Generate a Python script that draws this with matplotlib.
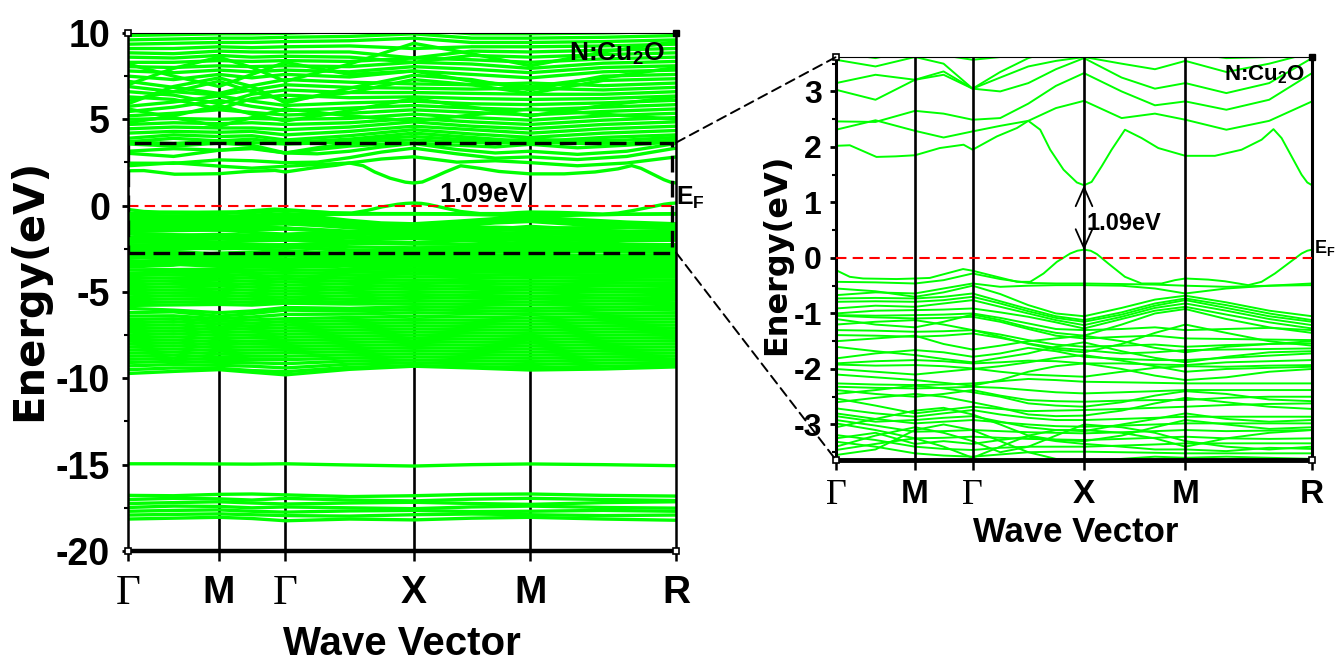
import matplotlib.pyplot as plt
from matplotlib.patches import Rectangle, ConnectionPatch
from matplotlib.ticker import MultipleLocator
import matplotlib.transforms as mtransforms

plt.rcParams['axes.unicode_minus'] = False
plt.rcParams['mathtext.fontset'] = 'custom'
plt.rcParams['mathtext.rm'] = 'Liberation Sans:bold'
plt.rcParams['mathtext.it'] = 'Liberation Sans:bold'
plt.rcParams['mathtext.bf'] = 'Liberation Sans:bold'

SANS = ['Liberation Sans', 'DejaVu Sans']
SERIF = ['Liberation Serif', 'DejaVu Serif']
GREEN = '#00ff00'

# high symmetry points on the k path
k_hs = [0.0, 0.166, 0.287, 0.521, 0.734, 1.0]
hs_labels = ['Γ', 'M', 'Γ', 'X', 'M', 'R']

# lowest conduction band (fine sampling)
k_cb1 = [0.0, 0.029, 0.085, 0.125, 0.166, 0.218, 0.268, 0.287, 0.338, 0.380, 0.404, 0.429,
         0.450, 0.478, 0.506, 0.521, 0.537, 0.558, 0.579, 0.607, 0.642, 0.677, 0.734, 0.796,
         0.852, 0.894, 0.919, 0.936, 0.957, 0.978, 0.990, 1.0]
e_cb1 = [2.02, 2.03, 1.82, 1.83, 1.85, 1.98, 2.04, 1.95, 2.19, 2.34, 2.47, 2.31,
         1.95, 1.59, 1.36, 1.31, 1.37, 1.65, 1.95, 2.31, 2.16, 1.98, 1.84, 1.84,
         1.95, 2.13, 2.32, 2.16, 1.83, 1.50, 1.36, 1.31]

# highest valence band (fine sampling)
k_vb1 = [0.0, 0.029, 0.057, 0.127, 0.166, 0.197, 0.232, 0.267, 0.287, 0.338, 0.380, 0.408,
         0.436, 0.464, 0.492, 0.507, 0.521, 0.535, 0.548, 0.572, 0.607, 0.642, 0.684, 0.712,
         0.734, 0.782, 0.817, 0.866, 0.894, 0.922, 0.950, 0.978, 0.990, 1.0]
e_vb1 = [-0.22, -0.34, -0.37, -0.38, -0.37, -0.36, -0.28, -0.20, -0.23, -0.34, -0.43, -0.43,
         -0.28, -0.07, 0.08, 0.13, 0.15, 0.13, 0.07, -0.10, -0.34, -0.46, -0.46, -0.40,
         -0.37, -0.39, -0.42, -0.49, -0.43, -0.28, -0.10, 0.08, 0.13, 0.15]

# grid for the bands near the gap
k_mid = [0.0, 0.083, 0.166, 0.226, 0.287, 0.345, 0.404, 0.462, 0.521, 0.60, 0.67, 0.734, 0.82, 0.91, 1.0]

cond_bands = [
    [2.31, 2.48, 2.29, 2.17, 2.28, 2.38, 2.47, 2.70, 2.83, 2.52, 2.60, 2.49, 2.31, 2.47, 2.82],
    [2.46, 2.45, 2.65, 2.60, 2.49, 2.52, 2.78, 3.10, 3.33, 3.00, 2.75, 2.82, 2.67, 2.85, 3.33],
    [3.03, 2.85, 3.21, 3.30, 3.05, 3.00, 3.15, 3.40, 3.60, 3.25, 3.05, 3.15, 2.97, 3.15, 3.60],
    [3.15, 3.30, 3.21, 3.36, 3.05, 3.25, 3.45, 3.55, 3.62, 3.50, 3.40, 3.55, 3.35, 3.50, 3.70],
    [3.57, 3.45, 3.62, 3.50, 3.05, 3.35, 3.60, 3.75, 3.80, 3.70, 3.62, 3.70, 3.60, 3.62, 3.80],
    [3.70, 3.60, 3.75, 3.65, 3.57, 3.62, 3.70, 3.90, 4.00, 3.85, 3.75, 3.85, 3.75, 3.80, 3.95],
]

val_bands = [
    [-0.43, -0.44, -0.46, -0.40, -0.28, -0.38, -0.45, -0.46, -0.46, -0.47, -0.48, -0.50, -0.52, -0.50, -0.46],
    [-0.67, -0.62, -0.64, -0.55, -0.46, -0.52, -0.50, -0.49, -0.49, -0.50, -0.55, -0.64, -0.55, -0.50, -0.49],
    [-0.73, -0.72, -0.73, -0.70, -0.64, -0.78, -0.92, -1.05, -1.12, -0.98, -0.82, -0.73, -0.85, -1.00, -1.12],
    [-0.79, -0.78, -0.79, -0.76, -0.70, -0.82, -0.96, -1.08, -1.15, -1.02, -0.86, -0.76, -0.90, -1.05, -1.15],
    [-0.91, -0.86, -0.88, -0.82, -0.76, -0.88, -1.00, -1.12, -1.21, -1.06, -0.90, -0.82, -0.95, -1.10, -1.21],
    [-1.00, -0.95, -0.94, -0.93, -0.91, -0.98, -1.06, -1.16, -1.27, -1.10, -0.95, -0.88, -1.02, -1.16, -1.27],
    [-1.03, -1.04, -1.03, -1.02, -1.00, -1.08, -1.18, -1.28, -1.30, -1.28, -1.25, -1.30, -1.28, -1.26, -1.30],
    [-1.04, -1.07, -1.09, -1.08, -1.06, -1.15, -1.28, -1.40, -1.45, -1.42, -1.40, -1.45, -1.46, -1.47, -1.48],
    [-1.30, -1.31, -1.33, -1.32, -1.30, -1.38, -1.48, -1.56, -1.60, -1.58, -1.56, -1.60, -1.57, -1.55, -1.54],
    [-1.39, -1.40, -1.42, -1.40, -1.36, -1.44, -1.54, -1.62, -1.66, -1.72, -1.70, -1.66, -1.65, -1.64, -1.63],
    [-1.81, -1.72, -1.66, -1.70, -1.78, -1.72, -1.62, -1.68, -1.78, -1.82, -1.84, -1.84, -1.80, -1.76, -1.72],
    [-1.90, -1.86, -1.84, -1.86, -1.90, -1.88, -1.85, -1.86, -1.90, -1.90, -1.92, -1.93, -1.88, -1.86, -1.84],
    [-1.92, -1.94, -1.93, -1.95, -1.99, -2.05, -2.10, -2.12, -2.14, -2.05, -1.98, -1.95, -1.96, -1.94, -1.93],
    [-2.26, -2.28, -2.29, -2.28, -2.26, -2.22, -2.18, -2.20, -2.23, -2.24, -2.25, -2.26, -2.26, -2.26, -2.26],
    [-2.32, -2.34, -2.35, -2.34, -2.32, -2.34, -2.38, -2.42, -2.44, -2.42, -2.40, -2.38, -2.38, -2.38, -2.38],
    [-2.38, -2.45, -2.50, -2.45, -2.38, -2.48, -2.56, -2.58, -2.59, -2.57, -2.56, -2.56, -2.52, -2.50, -2.50],
    [-2.53, -2.66, -2.80, -2.74, -2.68, -2.72, -2.76, -2.75, -2.74, -2.72, -2.70, -2.68, -2.65, -2.63, -2.62],
    [-2.71, -2.80, -2.86, -2.80, -2.74, -2.82, -2.88, -2.92, -2.92, -2.90, -2.88, -2.86, -2.86, -2.86, -2.86],
    [-2.80, -2.90, -2.98, -2.95, -2.92, -2.96, -3.00, -3.03, -3.04, -3.02, -3.00, -2.98, -2.98, -2.98, -2.98],
    [-2.92, -3.02, -3.13, -3.12, -3.10, -3.12, -3.14, -3.15, -3.16, -3.14, -3.12, -3.10, -3.12, -3.11, -3.10],
    [-2.98, -3.10, -3.25, -3.24, -3.22, -3.24, -3.26, -3.27, -3.28, -3.26, -3.24, -3.22, -3.25, -3.26, -3.25],
    [-3.19, -3.28, -3.40, -3.44, -3.46, -3.42, -3.40, -3.40, -3.40, -3.38, -3.36, -3.34, -3.34, -3.34, -3.34],
    [-3.31, -3.40, -3.52, -3.56, -3.58, -3.54, -3.50, -3.49, -3.49, -3.50, -3.51, -3.52, -3.52, -3.52, -3.52],
    [-3.46, -3.35, -3.25, -3.40, -3.60, -3.40, -3.20, -3.10, -3.10, -3.15, -3.25, -3.40, -3.25, -3.15, -3.10],
    [-3.55, -3.45, -3.10, -3.00, -3.10, -3.30, -3.50, -3.62, -3.66, -3.62, -3.58, -3.60, -3.58, -3.60, -3.62],
    [-1.20, -1.15, -1.12, -1.20, -1.30, -1.42, -1.55, -1.65, -1.70, -1.55, -1.35, -1.20, -1.35, -1.50, -1.58],
    [-1.60, -1.68, -1.75, -1.82, -1.88, -1.80, -1.72, -1.60, -1.52, -1.68, -1.80, -1.88, -1.78, -1.70, -1.68],
    [-2.10, -2.15, -2.20, -2.25, -2.30, -2.20, -2.05, -1.95, -1.90, -2.00, -2.12, -2.20, -2.15, -2.05, -2.00],
    [-2.60, -2.52, -2.45, -2.50, -2.60, -2.70, -2.82, -2.85, -2.84, -2.75, -2.62, -2.52, -2.60, -2.68, -2.72],
    [-3.05, -2.90, -2.75, -2.70, -2.82, -3.00, -3.20, -3.28, -3.30, -3.20, -3.05, -2.92, -3.00, -3.08, -3.05],
    [-3.40, -3.20, -3.05, -3.15, -3.30, -3.50, -3.40, -3.20, -3.00, -3.05, -3.15, -3.30, -3.40, -3.45, -3.40],
    [-0.55, -0.60, -0.70, -0.62, -0.50, -0.65, -0.85, -1.00, -1.05, -0.90, -0.75, -0.68, -0.80, -0.95, -1.05],
    [-1.10, -1.20, -1.25, -1.15, -1.02, -1.12, -1.25, -1.35, -1.40, -1.20, -1.00, -0.92, -1.10, -1.25, -1.35],
    [-1.50, -1.45, -1.40, -1.55, -1.65, -1.58, -1.50, -1.45, -1.40, -1.50, -1.62, -1.70, -1.60, -1.55, -1.50],
    [-2.00, -2.05, -2.10, -2.05, -2.00, -1.95, -1.88, -1.80, -1.75, -1.85, -1.95, -2.05, -2.00, -1.98, -1.96],
    [-2.45, -2.38, -2.30, -2.35, -2.42, -2.50, -2.62, -2.66, -2.68, -2.60, -2.48, -2.40, -2.45, -2.55, -2.58],
    [-2.85, -2.95, -2.92, -2.88, -2.85, -2.95, -3.05, -3.10, -3.12, -3.00, -2.90, -2.80, -2.90, -2.95, -2.92],
    [-3.25, -3.15, -3.35, -3.30, -3.35, -3.28, -3.22, -3.30, -3.35, -3.40, -3.45, -3.45, -3.48, -3.42, -3.44],
]

# coarse grid for the bands far from the gap
k_coarse = [0.0, 0.083, 0.166, 0.226, 0.287, 0.404, 0.521, 0.627, 0.734, 0.867, 1.0]

upper_bands = [
    [3.70, 3.90, 3.75, 3.85, 3.65, 3.85, 4.20, 3.95, 3.70, 3.95, 4.10],
    [3.90, 4.10, 4.00, 4.05, 3.80, 4.05, 4.40, 4.15, 3.95, 4.20, 4.35],
    [4.20, 4.30, 4.25, 4.30, 4.10, 4.30, 4.60, 4.40, 4.20, 4.45, 4.60],
    [4.45, 4.55, 4.50, 4.50, 4.40, 4.55, 4.85, 4.60, 4.45, 4.70, 4.85],
    [4.70, 4.80, 4.75, 4.80, 4.70, 4.80, 5.05, 4.85, 4.70, 4.95, 5.10],
    [5.00, 5.05, 5.00, 5.05, 5.00, 5.05, 5.30, 5.10, 4.95, 5.20, 5.35],
    [5.20, 5.35, 5.55, 5.40, 5.25, 5.35, 5.55, 5.40, 5.25, 5.45, 5.60],
    [5.45, 5.70, 6.10, 5.75, 5.50, 5.65, 5.80, 5.65, 5.55, 5.70, 5.85],
    [5.75, 6.00, 6.35, 6.05, 5.80, 5.95, 6.05, 5.90, 5.85, 5.95, 6.10],
    [6.30, 6.15, 5.60, 6.20, 6.40, 6.25, 6.30, 6.20, 6.15, 6.20, 6.35],
    [6.60, 6.40, 5.90, 6.45, 6.70, 6.55, 6.55, 6.50, 6.45, 6.45, 6.60],
    [6.90, 6.60, 6.40, 6.70, 7.00, 6.85, 6.80, 6.75, 6.80, 6.70, 6.85],
    [7.20, 6.85, 6.50, 6.95, 7.30, 7.15, 7.05, 7.00, 7.10, 6.95, 7.10],
    [6.10, 6.60, 7.20, 6.60, 6.10, 6.55, 7.30, 7.00, 6.50, 7.25, 7.35],
    [5.90, 6.90, 7.40, 6.90, 5.95, 6.80, 7.55, 7.30, 6.70, 7.50, 7.60],
    [7.50, 7.30, 7.60, 7.40, 7.60, 7.45, 7.80, 7.60, 7.40, 7.75, 7.85],
    [7.80, 7.70, 7.85, 7.75, 7.85, 7.75, 8.05, 7.90, 7.70, 8.00, 8.10],
    [8.05, 8.00, 8.10, 8.05, 8.10, 8.05, 8.30, 8.20, 7.95, 8.25, 8.35],
    [8.30, 8.30, 8.40, 8.35, 8.40, 8.35, 8.55, 8.45, 8.30, 8.50, 8.60],
    [8.60, 8.55, 8.70, 8.60, 8.65, 8.60, 8.30, 8.70, 8.60, 8.75, 8.85],
    [8.85, 8.80, 8.95, 8.90, 8.90, 8.90, 8.55, 8.95, 8.90, 9.00, 9.10],
    [9.10, 9.10, 9.20, 9.15, 9.20, 9.25, 9.10, 9.20, 9.20, 9.25, 9.35],
    [9.35, 9.40, 9.45, 9.45, 9.50, 9.55, 9.70, 9.45, 9.45, 9.50, 9.60],
    [9.60, 9.65, 9.70, 9.70, 9.75, 9.80, 9.95, 9.70, 9.70, 9.75, 9.85],
    [9.85, 9.90, 9.95, 9.95, 9.98, 10.1, 10.2, 9.95, 9.95, 10.0, 10.1],
    [7.00, 7.95, 8.60, 8.00, 7.20, 8.20, 9.40, 8.80, 8.10, 8.90, 9.50],
    [8.20, 7.50, 6.90, 7.60, 8.30, 7.60, 7.80, 7.20, 6.90, 7.40, 8.00],
    [4.80, 5.20, 5.80, 5.30, 4.90, 5.50, 6.20, 5.70, 5.20, 5.80, 6.30],
    [5.60, 5.10, 4.60, 5.10, 5.60, 5.20, 4.90, 5.25, 5.60, 5.30, 5.00],
]

deep_bands = [
    [-3.72, -3.70, -3.68, -3.72, -3.75, -3.70, -3.66, -3.70, -3.72, -3.70, -3.68],
    [-3.90, -3.85, -3.82, -3.88, -3.92, -3.86, -3.80, -3.84, -3.88, -3.85, -3.82],
    [-4.05, -4.00, -3.98, -4.04, -4.10, -4.02, -3.96, -4.00, -4.04, -4.00, -3.98],
    [-4.22, -4.18, -4.15, -4.20, -4.26, -4.18, -4.12, -4.16, -4.20, -4.16, -4.14],
    [-4.40, -4.35, -4.32, -4.38, -4.42, -4.35, -4.30, -4.34, -4.38, -4.33, -4.30],
    [-4.58, -4.52, -4.50, -4.55, -4.60, -4.52, -4.46, -4.50, -4.55, -4.50, -4.46],
    [-4.75, -4.70, -4.66, -4.72, -4.78, -4.70, -4.62, -4.68, -4.72, -4.66, -4.62],
    [-4.92, -4.88, -4.84, -4.90, -4.95, -4.86, -4.80, -4.84, -4.88, -4.84, -4.80],
    [-5.10, -5.05, -5.02, -5.08, -5.12, -5.04, -4.98, -5.02, -5.06, -5.00, -4.96],
    [-5.28, -5.22, -5.20, -5.25, -5.30, -5.22, -5.15, -5.20, -5.24, -5.18, -5.14],
    [-5.45, -5.40, -5.38, -5.42, -5.46, -5.40, -5.32, -5.36, -5.40, -5.35, -5.32],
    [-5.62, -5.58, -5.55, -5.60, -5.62, -5.56, -5.50, -5.54, -5.58, -5.52, -5.48],
    [-5.78, -5.75, -5.72, -5.76, -5.65, -5.70, -5.68, -5.72, -5.75, -5.70, -5.66],
    [-5.95, -6.05, -6.20, -6.10, -5.90, -5.95, -5.85, -5.90, -5.95, -5.88, -5.84],
    [-6.20, -6.15, -6.40, -6.25, -6.05, -6.10, -6.02, -6.08, -6.12, -6.05, -6.00],
    [-6.40, -6.38, -6.55, -6.45, -6.30, -6.28, -6.20, -6.25, -6.30, -6.24, -6.20],
    [-6.60, -6.55, -6.70, -6.62, -6.55, -6.48, -6.40, -6.45, -6.50, -6.42, -6.38],
    [-6.78, -6.72, -6.85, -6.80, -6.72, -6.66, -6.60, -6.64, -6.68, -6.60, -6.56],
    [-6.95, -6.90, -7.02, -6.96, -6.90, -6.84, -6.78, -6.82, -6.86, -6.78, -6.74],
    [-7.12, -7.08, -7.18, -7.12, -7.08, -7.02, -6.96, -7.00, -7.04, -6.96, -6.92],
    [-7.30, -7.25, -7.35, -7.30, -7.26, -7.20, -7.14, -7.18, -7.22, -7.14, -7.10],
    [-7.48, -7.42, -7.52, -7.48, -7.44, -7.38, -7.32, -7.36, -7.40, -7.32, -7.28],
    [-7.65, -7.60, -7.70, -7.65, -7.62, -7.56, -7.50, -7.54, -7.58, -7.50, -7.46],
    [-7.82, -7.78, -7.88, -7.84, -7.80, -7.74, -7.68, -7.72, -7.76, -7.68, -7.64],
    [-8.00, -7.95, -8.05, -8.00, -7.98, -7.92, -7.86, -7.90, -7.94, -7.86, -7.82],
    [-8.18, -8.12, -8.22, -8.18, -8.16, -8.10, -8.04, -8.08, -8.12, -8.04, -8.00],
    [-8.36, -8.30, -8.40, -8.36, -8.34, -8.28, -8.22, -8.26, -8.30, -8.22, -8.18],
    [-8.54, -8.48, -8.58, -8.54, -8.52, -8.46, -8.40, -8.44, -8.48, -8.40, -8.36],
    [-8.72, -8.66, -8.76, -8.72, -8.72, -8.64, -8.58, -8.62, -8.66, -8.58, -8.54],
    [-8.90, -8.84, -8.92, -8.90, -8.92, -8.82, -8.76, -8.80, -8.84, -8.76, -8.72],
    [-9.08, -9.02, -9.08, -9.10, -9.15, -9.00, -8.94, -8.98, -9.02, -8.94, -8.90],
    [-9.28, -9.20, -9.25, -9.30, -9.40, -9.18, -9.10, -9.16, -9.20, -9.12, -9.08],
    [-9.50, -9.40, -9.42, -9.55, -9.62, -9.36, -9.26, -9.32, -9.38, -9.30, -9.24],
    [-9.72, -9.60, -9.50, -9.65, -9.80, -9.48, -9.30, -9.40, -9.52, -9.46, -9.34],
]

core_bands = [
    [-14.95, -14.95, -14.96, -14.97, -14.95, -15.02, -15.08, -15.00, -14.96, -15.00, -15.06],
    [-16.78, -16.80, -16.72, -16.70, -16.75, -16.85, -16.80, -16.72, -16.70, -16.78, -16.82],
    [-17.02, -16.95, -16.98, -17.05, -16.95, -17.05, -17.10, -17.00, -16.95, -17.02, -17.08],
    [-17.25, -17.20, -17.15, -17.22, -17.28, -17.22, -17.18, -17.25, -17.30, -17.20, -17.15],
    [-17.48, -17.40, -17.42, -17.50, -17.45, -17.50, -17.55, -17.45, -17.40, -17.48, -17.52],
    [-17.70, -17.65, -17.62, -17.70, -17.75, -17.68, -17.65, -17.72, -17.70, -17.65, -17.70],
    [-17.92, -17.88, -17.85, -17.90, -17.95, -17.98, -17.90, -17.86, -17.90, -17.95, -17.92],
    [-18.15, -18.10, -18.05, -18.12, -18.25, -18.15, -18.20, -18.10, -18.05, -18.15, -18.22],
]

# zoom window marked on the full plot
box_lo, box_hi = -2.72, 3.65
gap_vbm, gap_cbm = 0.14, 1.31


def draw_bands(ax, lw):
    ax.plot(k_cb1, e_cb1, color=GREEN, lw=lw, zorder=2)
    ax.plot(k_vb1, e_vb1, color=GREEN, lw=lw, zorder=2)
    for b in cond_bands + val_bands:
        ax.plot(k_mid, b, color=GREEN, lw=lw, zorder=2)
    for b in upper_bands + deep_bands + core_bands:
        ax.plot(k_coarse, b, color=GREEN, lw=lw, zorder=2)


def style_axis(ax, ysize, xsize, gsize, bottom_w, side_w, ypad, xpad):
    ax.set_xlim(0, 1)
    ax.set_xticks(k_hs)
    ax.set_xticklabels(hs_labels)
    ax.tick_params(axis='x', direction='out', length=7, width=1.8, pad=xpad)
    ax.tick_params(axis='y', which='major', direction='out', length=4, width=2, pad=ypad)
    ax.tick_params(axis='y', which='minor', direction='out', length=3, width=1.5)
    for lbl in ax.get_xticklabels():
        if lbl.get_text() == 'Γ':
            lbl.set_fontfamily(SERIF)
            lbl.set_fontsize(gsize)
        else:
            lbl.set_fontfamily(SANS)
            lbl.set_fontweight('bold')
            lbl.set_fontsize(xsize)
    for lbl in ax.get_yticklabels():
        lbl.set_fontfamily(SANS)
        lbl.set_fontweight('bold')
        lbl.set_fontsize(ysize)
    ax.spines['bottom'].set_linewidth(bottom_w)
    ax.spines['left'].set_linewidth(side_w)
    ax.spines['right'].set_linewidth(side_w)
    ax.spines['top'].set_linewidth(0.8)
    # little corner squares of the original plotting program
    ax.plot([1], [1], 's', color='black', ms=5, transform=ax.transAxes, clip_on=False, zorder=6)
    ax.plot([0, 0, 1], [1, 0, 0], 's', mfc='white', mec='black', mew=1.2, ms=5,
            transform=ax.transAxes, clip_on=False, zorder=6)


fig = plt.figure(figsize=(13.38, 6.66), dpi=100)
ax1 = fig.add_axes([0.0957, 0.1727, 0.4096, 0.7778])
ax2 = fig.add_axes([0.6248, 0.3093, 0.3558, 0.6051])

# ---- full band structure ----
for k in k_hs[1:-1]:
    ax1.axvline(k, color='black', lw=1.9, zorder=1)
draw_bands(ax1, 2.4)
ax1.axhline(0, color='red', lw=1.5, ls=(0, (5, 3)), zorder=3)
ax1.set_ylim(-20, 10)
ax1.set_yticks([-20, -15, -10, -5, 0, 5, 10])
ax1.yaxis.set_minor_locator(MultipleLocator(2.5))
style_axis(ax1, 27, 28, 31, 3.2, 1.8, 9, 10)
ax1.add_patch(Rectangle((0, box_lo), 0.992, box_hi - box_lo, fill=False, ec='black',
                        lw=2.4, ls=(0, (5, 2.5)), zorder=4))
ax1.text(0.98, 0.985, 'N:Cu$_2$O', transform=ax1.transAxes, ha='right', va='top',
         fontsize=19, fontfamily=SANS, fontweight='bold', zorder=5)
ax1.text(0.728, 0.23, '1.09eV', ha='right', va='baseline', fontsize=20,
         fontfamily=SANS, fontweight='bold', zorder=5)
tr1 = mtransforms.blended_transform_factory(ax1.transAxes, ax1.transData)
ax1.text(1.0, 0.05, 'E$_\\mathrm{F}$', transform=tr1, ha='left', va='baseline',
         fontsize=18, fontfamily=SANS, fontweight='bold', clip_on=False, zorder=5)
ax1.text(-0.1807, 0.504, 'Energy(eV)', transform=ax1.transAxes, rotation=90,
         ha='center', va='center', fontsize=30, fontweight='bold', fontfamily='DejaVu Sans')
ax1.text(0.5, -0.1795, 'Wave Vector', transform=ax1.transAxes, ha='center', va='center',
         fontsize=29, fontweight='bold', fontfamily=SANS)

# ---- zoom around the gap ----
draw_bands(ax2, 1.4)
for k in k_hs[1:-1]:
    ax2.axvline(k, color='black', lw=1.9, zorder=3)
ax2.axhline(0, color='red', lw=1.5, ls=(0, (5, 3)), zorder=4)
ax2.set_ylim(-3.64, 3.62)
ax2.set_yticks([-3, -2, -1, 0, 1, 2, 3])
ax2.yaxis.set_minor_locator(MultipleLocator(0.5))
style_axis(ax2, 23, 24, 26, 3.5, 2.2, 6, 7)
ax2.annotate('', xy=(k_hs[3], gap_cbm), xytext=(k_hs[3], gap_vbm),
             arrowprops=dict(arrowstyle='<->,head_length=0.9,head_width=0.4', color='black',
                             lw=1.3, shrinkA=0, shrinkB=0, mutation_scale=15), zorder=5)
ax2.text(0.527, 0.50, '1.09eV', ha='left', va='baseline', fontsize=17,
         fontfamily=SANS, fontweight='bold', zorder=5)
ax2.text(0.985, 0.985, 'N:Cu$_2$O', transform=ax2.transAxes, ha='right', va='top',
         fontsize=16, fontfamily=SANS, fontweight='bold', zorder=5)
tr2 = mtransforms.blended_transform_factory(ax2.transAxes, ax2.transData)
ax2.text(1.005, 0.09, 'E$_\\mathrm{F}$', transform=tr2, ha='left', va='baseline',
         fontsize=13, fontfamily=SANS, fontweight='bold', clip_on=False, zorder=5)
ax2.text(-0.125, 0.51, 'Energy(eV)', transform=ax2.transAxes, rotation=90,
         ha='center', va='center', fontsize=23, fontweight='bold', fontfamily='DejaVu Sans')
ax2.text(0.504, -0.1787, 'Wave Vector', transform=ax2.transAxes, ha='center', va='center',
         fontsize=25, fontweight='bold', fontfamily=SANS)

# ---- dashed connectors from the box to the zoom ----
for y_left, y_right in [(box_hi, 1), (box_lo, 0)]:
    con = ConnectionPatch(xyA=(1.0, y_left), coordsA=ax1.transData,
                          xyB=(0, y_right), coordsB=ax2.transAxes,
                          color='black', lw=1.4, ls=(0, (5, 3)))
    fig.add_artist(con)

fig.savefig('out.png', dpi=100)
